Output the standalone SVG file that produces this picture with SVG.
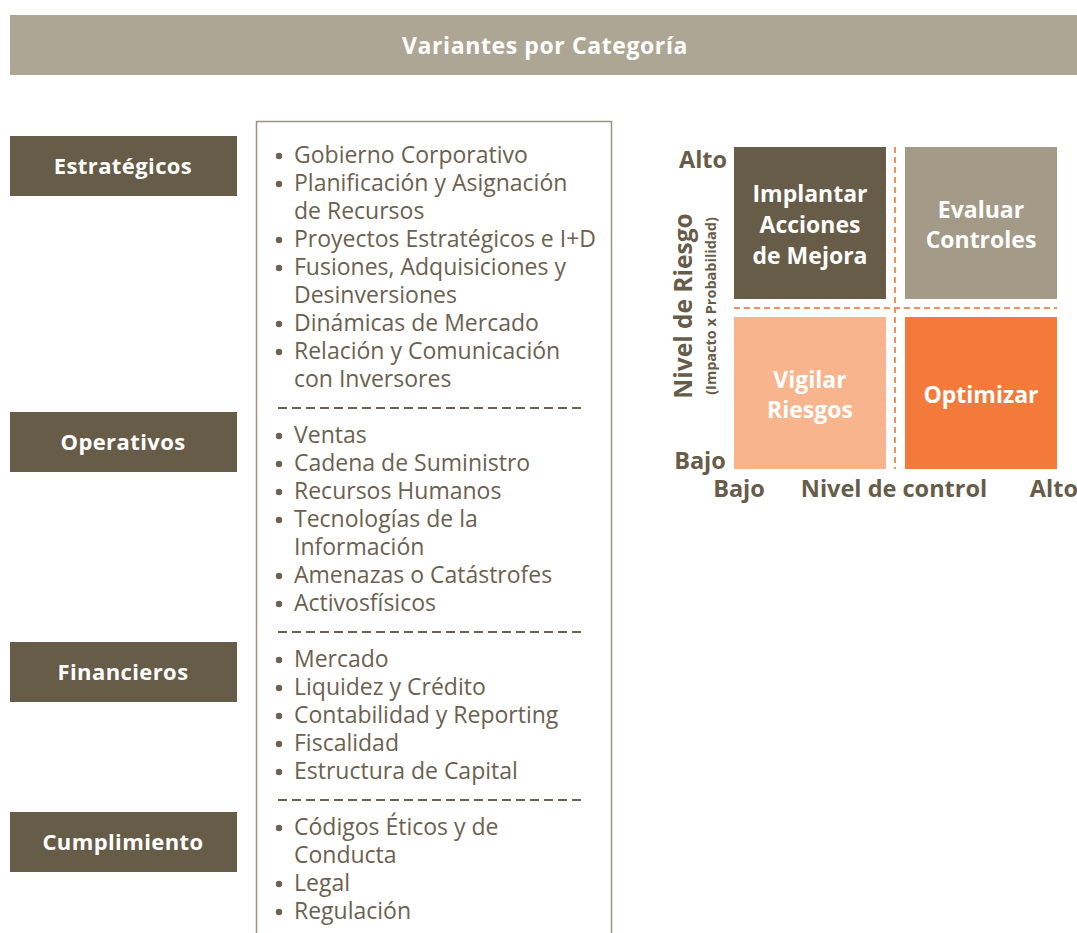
<svg xmlns="http://www.w3.org/2000/svg" width="1077" height="933" viewBox="0 0 1077 933">
<style>
.cat{fill:#675C48}
.ct{font-family:"Open Sans","Noto Sans",sans-serif;font-weight:bold;font-size:22px;letter-spacing:0.4px;fill:#fff;text-anchor:middle}
.li{font-family:"Open Sans","Noto Sans",sans-serif;font-size:23px;fill:#6B6150}
.bu{fill:#6B6150}
.dash{stroke:#6B6150;stroke-width:2;stroke-dasharray:9 5;fill:none}
.odash{stroke:#F5905A;stroke-width:2;stroke-dasharray:6 4;fill:none}
.mt{font-family:"Open Sans","Noto Sans",sans-serif;font-weight:bold;font-size:23px;fill:#fff;text-anchor:middle}
.ax{font-family:"Open Sans","Noto Sans",sans-serif;font-weight:bold;font-size:23.5px;fill:#675C48}
</style>
<rect width="1077" height="933" fill="#fff"/>
<g id="header">
<rect x="10" y="15" width="1067" height="60" fill="#ADA694"/>
<text x="545" y="54" class="ct" style="font-size:23px;letter-spacing:0.6px">Variantes por Categoría</text>
</g>
<g id="estrategicos"><rect class="cat" x="10" y="136" width="227" height="60"/><text class="ct" x="123" y="174">Estratégicos</text></g>
<g id="operativos"><rect class="cat" x="10" y="412" width="227" height="60"/><text class="ct" x="123" y="450">Operativos</text></g>
<g id="financieros"><rect class="cat" x="10" y="642" width="227" height="60"/><text class="ct" x="123" y="680">Financieros</text></g>
<g id="cumplimiento"><rect class="cat" x="10" y="812" width="227" height="60"/><text class="ct" x="123" y="850">Cumplimiento</text></g>
<g id="lista">
<path d="M256.5 933 V121.5 H611.5 V933" fill="none" stroke="#9A9282" stroke-width="1.5"/>
<g class="bu">
<circle cx="279" cy="156" r="3.2"/><circle cx="279" cy="184" r="3.2"/><circle cx="279" cy="240" r="3.2"/><circle cx="279" cy="268" r="3.2"/><circle cx="279" cy="324" r="3.2"/><circle cx="279" cy="352" r="3.2"/>
<circle cx="279" cy="436" r="3.2"/><circle cx="279" cy="464" r="3.2"/><circle cx="279" cy="492" r="3.2"/><circle cx="279" cy="520" r="3.2"/><circle cx="279" cy="576" r="3.2"/><circle cx="279" cy="604" r="3.2"/>
<circle cx="279" cy="660" r="3.2"/><circle cx="279" cy="688" r="3.2"/><circle cx="279" cy="716" r="3.2"/><circle cx="279" cy="744" r="3.2"/><circle cx="279" cy="772" r="3.2"/>
<circle cx="279" cy="828" r="3.2"/><circle cx="279" cy="884" r="3.2"/><circle cx="279" cy="912" r="3.2"/>
</g>
<g class="li">
<text x="294" y="163">Gobierno Corporativo</text>
<text x="294" y="191">Planificación y Asignación</text>
<text x="294" y="219">de Recursos</text>
<text x="294" y="247">Proyectos Estratégicos e I+D</text>
<text x="294" y="275">Fusiones, Adquisiciones y</text>
<text x="294" y="303">Desinversiones</text>
<text x="294" y="331">Dinámicas de Mercado</text>
<text x="294" y="359">Relación y Comunicación</text>
<text x="294" y="387">con Inversores</text>
<text x="294" y="443">Ventas</text>
<text x="294" y="471">Cadena de Suministro</text>
<text x="294" y="499">Recursos Humanos</text>
<text x="294" y="527">Tecnologías de la</text>
<text x="294" y="555">Información</text>
<text x="294" y="583">Amenazas o Catástrofes</text>
<text x="294" y="611">Activosfísicos</text>
<text x="294" y="667">Mercado</text>
<text x="294" y="695">Liquidez y Crédito</text>
<text x="294" y="723">Contabilidad y Reporting</text>
<text x="294" y="751">Fiscalidad</text>
<text x="294" y="779">Estructura de Capital</text>
<text x="294" y="835">Códigos Éticos y de</text>
<text x="294" y="863">Conducta</text>
<text x="294" y="891">Legal</text>
<text x="294" y="919">Regulación</text>
</g>
<path class="dash" d="M278 408 H584 M278 632 H584 M278 800 H584"/>
</g>
<g id="matriz">
<g id="implantar"><rect x="734" y="147" width="152" height="152" fill="#675C48"/>
<text class="mt" x="810" y="202">Implantar</text><text class="mt" x="810" y="233">Acciones</text><text class="mt" x="810" y="264">de Mejora</text></g>
<g id="evaluar"><rect x="905" y="147" width="152" height="152" fill="#A39A87"/>
<text class="mt" x="981" y="218">Evaluar</text><text class="mt" x="981" y="248">Controles</text></g>
<g id="vigilar"><rect x="734" y="317" width="152" height="152" fill="#F8B48D"/>
<text class="mt" x="810" y="388">Vigilar</text><text class="mt" x="810" y="418">Riesgos</text></g>
<g id="optimizar"><rect x="905" y="317" width="152" height="152" fill="#F37A3A"/>
<text class="mt" x="981" y="403">Optimizar</text></g>
<path class="odash" d="M895 147 V469 M734 308 H1057"/>
<text class="ax" x="703" y="168" text-anchor="middle">Alto</text>
<text class="ax" x="700" y="469" text-anchor="middle">Bajo</text>
<text class="ax" x="739" y="497" text-anchor="middle">Bajo</text>
<text class="ax" x="894" y="497" text-anchor="middle">Nivel de control</text>
<text class="ax" x="1078" y="497" text-anchor="end">Alto</text>
<text class="ax" style="font-size:24.5px" transform="translate(692 306) rotate(-90)" text-anchor="middle">Nivel de Riesgo</text>
<text class="ax" style="font-size:14.5px" transform="translate(716 306) rotate(-90)" text-anchor="middle">(Impacto x Probabilidad)</text>
</g>
</svg>
